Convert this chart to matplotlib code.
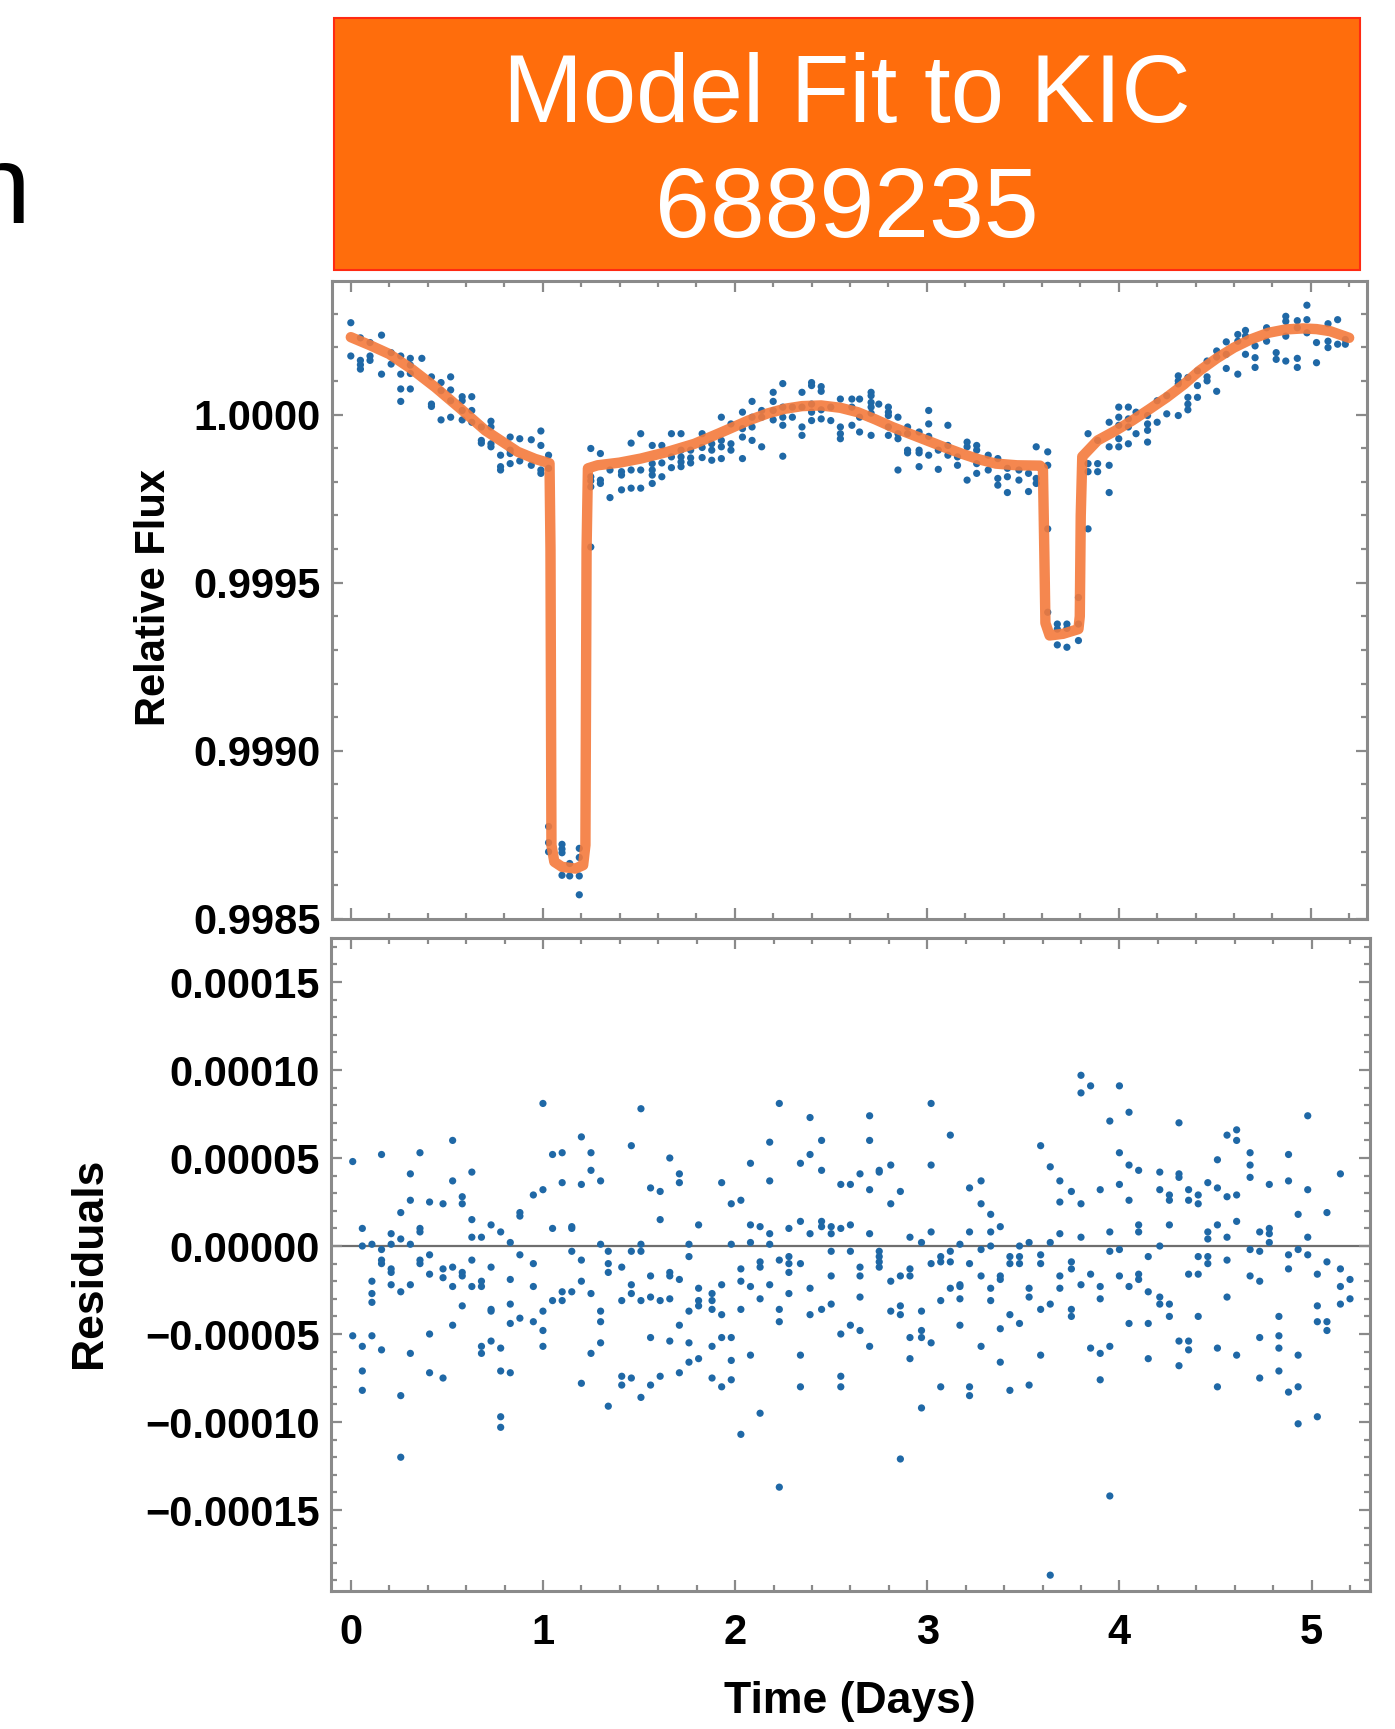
#Packages
import numpy as np
import matplotlib.pyplot as plt
from matplotlib.patches import Rectangle
from matplotlib.ticker import MultipleLocator, FuncFormatter

plt.rcParams['font.family'] = ['Liberation Sans', 'DejaVu Sans']
plt.rcParams['font.weight'] = 'bold'



#Data (flux and residuals in units of 1e-5, flux given as offset from 1)
#Light curve points, grouped by time column
top_times = [0.00, 0.05, 0.10, 0.16, 0.21, 0.26, 0.31, 0.37, 0.42, 0.47, 0.52, 0.58, 0.63, 0.68, 0.73,
             0.78, 0.83, 0.88, 0.94, 0.99, 1.03, 1.10, 1.14, 1.19, 1.25, 1.30, 1.35, 1.41, 1.46, 1.51,
             1.57, 1.62, 1.67, 1.72, 1.77, 1.83, 1.88, 1.93, 1.98, 2.04, 2.09, 2.14, 2.20, 2.25, 2.30,
             2.35, 2.40, 2.45, 2.50, 2.55, 2.61, 2.65, 2.71, 2.75, 2.80, 2.85, 2.90, 2.96, 3.01, 3.06,
             3.11, 3.16, 3.21, 3.26, 3.32, 3.37, 3.42, 3.48, 3.53, 3.57, 3.63, 3.68, 3.73, 3.79, 3.84,
             3.89, 3.95, 4.00, 4.05, 4.09, 4.15, 4.20, 4.25, 4.31, 4.36, 4.41, 4.46, 4.51, 4.56, 4.62,
             4.66, 4.71, 4.77, 4.82, 4.87, 4.93, 4.98, 5.03, 5.09, 5.14, 5.18]
top_values = [[27.3, 17.4], [22.8, 16.1, 14.8, 13.5], [21.4, 17.4, 16.1], [23.6, 12.0], [18.4, 15.0],
              [17.4, 12.0, 7.6, 3.9], [16.7, 14.7, 12.2, 7.6], [16.7], [11.2, 3.1, 2.4], [9.5, 7.1, -1.6],
              [11.2, 7.3, 4.1, -0.8], [5.3, 4.1, 1.2, -1.6], [5.3, 1.2, -2.3], [-3.7, -7.7, -8.5],
              [-2.0, -3.7, -8.7, -9.6], [-12.1, -15.5, -16.5], [-6.7, -10.6, -11.6, -14.6], [-7.2, -13.8],
              [-7.5, -15.1], [-4.9, -9.2, -16.5, -17.5], [-12.1, -16.0, -122.5, -127.3, -130.0],
              [-127.8, -129.2, -130.3, -137.0], [-133.5, -137.2], [-129.0, -131.7, -137.2, -142.8],
              [-10.1, -18.5, -19.7, -21.5, -39.4], [-11.6, -19.5, -20.5], [-16.5, -24.7],
              [-17.0, -18.0, -22.4], [-8.5, -16.5, -21.9], [-5.7, -16.5, -21.9],
              [-9.2, -14.6, -16.5, -18.0, -20.5], [-9.2, -14.4, -18.5], [-5.7, -12.6, -15.8],
              [-5.7, -10.6, -12.6, -14.1, -15.5], [-10.6, -12.9, -14.4], [-5.7, -9.8, -12.8],
              [-8.7, -10.6, -13.6], [-0.8, -7.7, -9.6, -13.1], [-2.8, -8.7, -10.6], [0.7, -4.2, -6.7, -13.1],
              [3.9, -0.8, -3.7, -7.7], [1.2, -0.8, -9.6], [6.6, 3.9, 1.2, -1.6], [9.2, 2.2, -0.8, -3.2, -12.4],
              [2.2, -0.8], [6.6, 2.2, -3.7, -6.2], [9.5, 8.6, 3.1, 0.7, -1.8], [8.3, 6.9, 1.4, -1.3],
              [2.2, -1.8], [4.6, -3.7, -5.7, -7.2], [4.6, 2.2, -3.2], [4.6, -0.8, -5.2],
              [6.6, 5.6, 3.6, 2.2, 0.4, -6.2], [3.1], [2.2, 0.7, -0.3, -3.7, -6.2], [-0.8, -5.7, -7.2, -16.5],
              [-3.7, -5.7, -10.6, -11.4], [-5.2, -10.6, -11.4, -15.5], [1.2, -2.8, -6.5, -12.1],
              [-10.6, -16.3], [-3.2, -9.2, -12.1], [-12.6, -15.1], [-8.2, -9.6, -19.5],
              [-9.2, -10.6, -14.6, -17.5], [-12.1, -16.5], [-13.1, -19.0, -21.0], [-16.0, -18.5, -23.2],
              [-16.5, -19.5], [-17.5, -22.9], [-9.6, -19.0, -20.5], [-11.1, -15.1, -34.0, -58.8],
              [-62.3, -63.8, -68.5], [-62.3, -63.6, -69.2], [-54.4, -62.3, -67.2], [-5.7, -14.6, -17.0, -34.0],
              [-7.7, -14.6, -17.0], [-2.3, -9.6, -15.1, -23.2], [2.2, -0.8, -3.2, -7.2, -9.6],
              [2.2, -1.3, -3.7, -8.7], [0.7, -5.7], [-0.3, -2.8, -4.7, -8.2], [4.1, -2.3], [5.6, 0.2],
              [11.5, 10.0, 9.1, -0.3], [11.0, 5.1, 3.1, 1.4], [13.0, 8.6, 5.1], [15.9, 11.2, 10.0],
              [18.9, 17.1, 6.9], [21.6, 17.9, 13.7], [23.8, 21.8, 12.0], [25.0, 23.3, 17.9],
              [20.4, 16.9, 14.0], [25.8, 21.8], [18.4, 16.4], [29.2, 27.7, 23.3, 15.9],
              [27.9, 25.8, 16.7, 14.0], [32.5, 28.2, 24.3], [21.4, 15.4], [27.0, 21.8, 19.9],
              [28.2, 20.9], [22.3, 20.9]]

#Model curve
model_t = [0.0, 0.1, 0.2, 0.32, 0.44, 0.57, 0.70, 0.87, 0.96, 1.035, 1.040, 1.045, 1.06, 1.10, 1.17,
           1.21, 1.222, 1.228, 1.235, 1.285, 1.40, 1.51, 1.65, 1.79, 1.93, 2.07, 2.17, 2.26, 2.35, 2.45,
           2.55, 2.64, 2.73, 2.82, 2.91, 3.0, 3.09, 3.18, 3.27, 3.36, 3.47, 3.59, 3.605, 3.612, 3.618,
           3.64, 3.71, 3.79, 3.797, 3.802, 3.81, 3.89, 3.98, 4.07, 4.16, 4.25, 4.34, 4.42, 4.51, 4.60,
           4.69, 4.78, 4.87, 4.96, 5.03, 5.10, 5.20]
model_f = [23.0, 20.6, 18.0, 13.4, 8.1, 1.8, -4.7, -11.1, -13.2, -14.5, -40.0, -128.0, -133.0, -134.5,
           -135.0, -134.0, -128.0, -40.0, -16.0, -15.1, -14.3, -13.1, -11.1, -8.7, -5.3, -1.8, 0.3,
           1.7, 2.5, 2.7, 2.0, 0.7, -1.4, -3.7, -5.7, -7.7, -9.7, -11.6, -13.3, -14.6, -15.1, -15.2,
           -16.0, -40.0, -62.0, -65.7, -65.2, -63.8, -60.0, -30.0, -12.5, -7.7, -4.9, -1.8, 1.6, 5.1,
           9.0, 13.0, 16.7, 19.9, 22.4, 24.3, 25.3, 25.6, 25.4, 24.8, 22.8]

#Residuals, grouped by time column
res_times = [0.01, 0.06, 0.11, 0.16, 0.21, 0.26, 0.31, 0.36, 0.41, 0.48, 0.53, 0.58, 0.63, 0.68, 0.73,
             0.78, 0.83, 0.88, 0.95, 1.00, 1.05, 1.10, 1.15, 1.20, 1.25, 1.30, 1.34, 1.41, 1.46, 1.51,
             1.56, 1.61, 1.66, 1.71, 1.76, 1.81, 1.88, 1.93, 1.98, 2.03, 2.08, 2.13, 2.18, 2.23, 2.28,
             2.34, 2.39, 2.45, 2.50, 2.55, 2.60, 2.65, 2.70, 2.75, 2.81, 2.86, 2.91, 2.97, 3.02, 3.07,
             3.12, 3.17, 3.22, 3.28, 3.33, 3.38, 3.43, 3.48, 3.53, 3.59, 3.64, 3.69, 3.75, 3.80, 3.85,
             3.90, 3.95, 4.00, 4.05, 4.10, 4.15, 4.21, 4.26, 4.31, 4.36, 4.41, 4.46, 4.51, 4.56, 4.61,
             4.68, 4.73, 4.78, 4.83, 4.88, 4.93, 4.98, 5.03, 5.08, 5.15, 5.20]
res_values = [[4.8, -5.1], [1.0, 0.0, -5.7, -7.1, -8.2], [0.1, -2.0, -2.7, -3.2, -5.1],
              [5.2, -0.2, -0.8, -1.0, -5.9], [0.7, 0.1, -1.3, -1.5, -2.2], [1.9, 0.4, -2.6, -8.5, -12.0],
              [4.1, 2.6, 0.1, -2.2, -6.1], [5.3, 1.0, 0.8, -0.8, -1.0], [2.5, -0.5, -1.6, -5.0, -7.2],
              [2.4, -1.3, -1.8, -7.5], [6.0, 3.7, -1.2, -2.3, -4.5], [2.8, 2.4, -1.5, -1.7, -3.4],
              [4.2, 1.5, 0.5, -0.8, -2.3], [0.5, -2.0, -2.3, -5.7, -6.1], [1.2, -1.2, -3.6, -3.7, -5.4],
              [0.8, -5.8, -7.1, -9.7, -10.3], [0.2, -1.9, -3.3, -4.4, -7.2], [1.9, 1.7, -0.5, -4.1],
              [2.9, -1.0, -2.3, -4.3], [8.1, 3.2, -3.7, -4.8, -5.7], [5.2, 1.0, -3.1], [5.3, 3.6, -2.6, -3.1],
              [1.1, 1.0, -0.3, -2.6], [6.2, 3.5, -0.8, -2.0, -7.8], [5.3, 4.3, -2.7, -6.1],
              [3.7, 0.1, -3.7, -4.3, -5.5], [-0.3, -1.0, -1.5, -9.1], [-1.2, -3.1, -7.4, -7.9],
              [5.7, -0.3, -2.2, -2.7, -7.5], [7.8, 0.1, -0.3, -3.1, -8.6], [3.3, -1.7, -2.9, -5.2, -7.9],
              [3.1, 1.5, -3.1, -7.4], [5.0, -1.5, -1.7, -3.0, -5.4], [4.1, 3.6, -1.9, -4.5, -7.2],
              [0.1, -0.6, -3.7, -5.5, -6.6], [1.2, -2.4, -3.1, -3.4, -6.4], [-2.7, -3.1, -3.6, -5.7, -7.5],
              [3.6, -2.2, -3.9, -5.2, -8.0], [2.4, 0.1, -5.2, -6.5, -7.6], [2.6, -1.3, -2.0, -3.6, -10.7],
              [4.7, 1.2, 0.2, -2.3, -6.2], [1.1, -0.9, -1.2, -3.0, -9.5], [5.9, 3.7, 0.7, 0.1, -2.2],
              [8.1, -0.8, -3.6, -4.3, -13.7], [1.0, -0.6, -1.0, -1.5, -2.7], [4.7, 1.4, -1.0, -6.2, -8.0],
              [7.3, 5.2, 0.7, -2.4, -3.9], [6.0, 4.3, 1.4, 1.1, -3.6], [1.1, 0.7, -0.3, -1.7, -3.3],
              [3.5, 1.0, -5.0, -7.4, -8.0], [3.5, 1.2, -0.3, -4.5], [4.1, -1.2, -1.7, -2.9, -4.8],
              [7.4, 6.0, 3.2, 0.7, -5.7], [4.3, 4.2, -0.3, -0.6, -0.9, -1.2], [4.6, 2.4, -2.0, -3.7],
              [3.1, -1.7, -3.4, -3.9, -12.1], [0.5, -1.3, -1.7, -5.2, -6.4], [0.2, -3.7, -4.8, -5.2, -9.2],
              [8.1, 4.6, 0.8, -1.0, -5.5], [-0.6, -0.9, -3.1, -8.0], [6.3, -0.3, -0.9, -2.4],
              [0.1, -2.2, -2.3, -3.0, -4.5], [3.3, 0.8, -1.0, -8.0, -8.5], [3.7, 2.4, -0.2, -1.7, -5.7],
              [1.8, 0.8, 0.0, -2.4, -3.1], [1.1, -1.7, -1.9, -4.7, -6.6], [-0.6, -1.0, -3.9, -8.2],
              [0.0, -0.6, -1.0, -4.4], [0.2, -2.4, -2.9, -7.9], [5.7, -0.5, -1.0, -3.6, -6.2],
              [4.5, 0.2, -3.3, -18.7], [3.7, 2.5, 0.7, -1.7, -2.4], [3.1, -0.9, -1.3, -3.6, -4.0],
              [9.7, 8.7, 2.4, 0.5, -2.2], [9.1, -1.6, -5.8], [3.2, -2.3, -3.0, -6.1, -7.6],
              [7.1, 0.8, -0.3, -5.7, -14.2], [9.1, 5.3, 3.5, -0.2, -1.7], [7.6, 4.6, 2.6, -2.3, -4.4],
              [4.3, 1.2, 0.8, -1.6, -1.9], [-0.6, -2.6, -4.4, -6.4], [4.2, 3.2, 0.0, -2.9, -3.3],
              [2.9, 2.6, 1.2, -3.3, -4.0], [7.0, 4.1, 3.9, -5.4, -6.8], [3.2, 2.6, -1.6, -5.4, -5.9],
              [2.9, 2.4, -0.6, -1.6, -4.0], [3.6, 0.8, 0.4, -0.6, -1.0], [4.9, 3.3, 1.2, -5.8, -8.0],
              [6.3, 2.8, 0.5, -0.8, -2.9], [6.6, 6.0, 2.9, 1.4, -6.2], [5.3, 4.6, 3.9, -0.2, -1.7],
              [0.8, -0.3, -2.0, -5.2, -7.5], [3.5, 1.0, 0.7, 0.2], [-4.0, -5.1, -5.8, -7.1],
              [5.2, 3.7, -0.5, -1.3, -8.3], [1.8, -0.2, -6.2, -8.0, -10.1], [7.4, 3.2, 0.5, -0.5],
              [-1.6, -3.4, -4.3, -9.7], [1.9, -0.9, -4.3, -4.8], [4.1, -1.3, -2.3, -3.3], [-1.9, -3.0]]



#Flatten the columns
top_t = np.concatenate([[t]*len(v) for t, v in zip(top_times, top_values)])
top_y = 1 + np.concatenate(top_values)*1e-5
res_t = np.concatenate([[t]*len(v) for t, v in zip(res_times, res_values)])
res_y = np.concatenate(res_values)*1e-5
mod_t = np.array(model_t)
mod_y = 1 + np.array(model_f)*1e-5

W, H = 1395, 1729
dot = '#1f68a6'
frame_col = '#8a8a8a'

fig = plt.figure(figsize=(W/100, H/100), dpi=100)


def frame(ax):
    for s in ax.spines.values():
        s.set_color(frame_col)
        s.set_linewidth(2.2)
    ax.tick_params(which='both', direction='in', top=True, right=True, color=frame_col, width=1.6)
    ax.tick_params(which='major', length=8)
    ax.tick_params(which='minor', length=4)
    ax.tick_params(axis='y', labelsize=30, pad=8)
    ax.xaxis.set_major_locator(MultipleLocator(1))
    ax.xaxis.set_minor_locator(MultipleLocator(0.2))


# Top panel: light curve + model
ax1 = fig.add_axes([332/W, 1-919/H, (1367-332)/W, (919-281)/H])
ax1.scatter(top_t, top_y, s=27, color=dot, edgecolors='none', zorder=2)
ax1.plot(mod_t, mod_y, color='#f47a3c', lw=7.5, alpha=0.9, solid_joinstyle='round',
         solid_capstyle='round', zorder=3)
ax1.set_xlim(-0.098, 5.293)
ax1.set_ylim(0.9985, 1.000397)
frame(ax1)
ax1.yaxis.set_major_locator(MultipleLocator(0.0005))
ax1.yaxis.set_minor_locator(MultipleLocator(0.0001))
ax1.yaxis.set_major_formatter(FuncFormatter(lambda v, p: f'{v:.4f}'))
ax1.tick_params(axis='x', labelbottom=False)

# Bottom panel: residuals
def res_fmt(v, p):
    if abs(v) < 1e-12:
        v = 0.0
    return f'{v:.5f}'.replace('-', '\u2212')

ax2 = fig.add_axes([331/W, 1-1591/H, (1370-331)/W, (1591-938)/H])
ax2.axhline(0, color='#6e6e6e', lw=1.6, zorder=1)
ax2.scatter(res_t, res_y, s=27, color=dot, edgecolors='none', zorder=2)
ax2.set_xlim(-0.103, 5.304)
ax2.set_ylim(-0.000196, 0.000175)
frame(ax2)
ax2.yaxis.set_major_locator(MultipleLocator(0.00005))
ax2.yaxis.set_minor_locator(MultipleLocator(0.00001))
ax2.yaxis.set_major_formatter(FuncFormatter(res_fmt))
ax2.tick_params(axis='x', labelsize=30, pad=16)

# Axis labels
fig.text(154/W, 1-598/H, 'Relative Flux', rotation=90, ha='center', va='center', fontsize=30)
fig.text(90/W, 1-1263/H, 'Residuals', rotation=90, ha='center', va='center', fontsize=32)
fig.text(850/W, 1-1702/H, 'Time (Days)', ha='center', va='center', fontsize=32)

# Title box
fig.add_artist(Rectangle((334/W, 1-270/H), (1360-334)/W, 252/H, transform=fig.transFigure,
                         facecolor='#ff6d0c', edgecolor='#ff2a12', lw=1.5))
fig.text(847/W, 1-122/H, 'Model Fit to KIC', ha='center', va='baseline', color='white',
         fontsize=69, fontweight='normal')
fig.text(847/W, 1-237/H, '6889235', ha='center', va='baseline', color='white',
         fontsize=71, fontweight='normal')

# cut-off letter at the left edge (partly outside the picture, as in the slide)
fig.text(30/W, 1-223/H, 'n', ha='right', va='baseline', color='black', fontsize=80, fontweight='normal')

plt.savefig('out.png', dpi=100)
